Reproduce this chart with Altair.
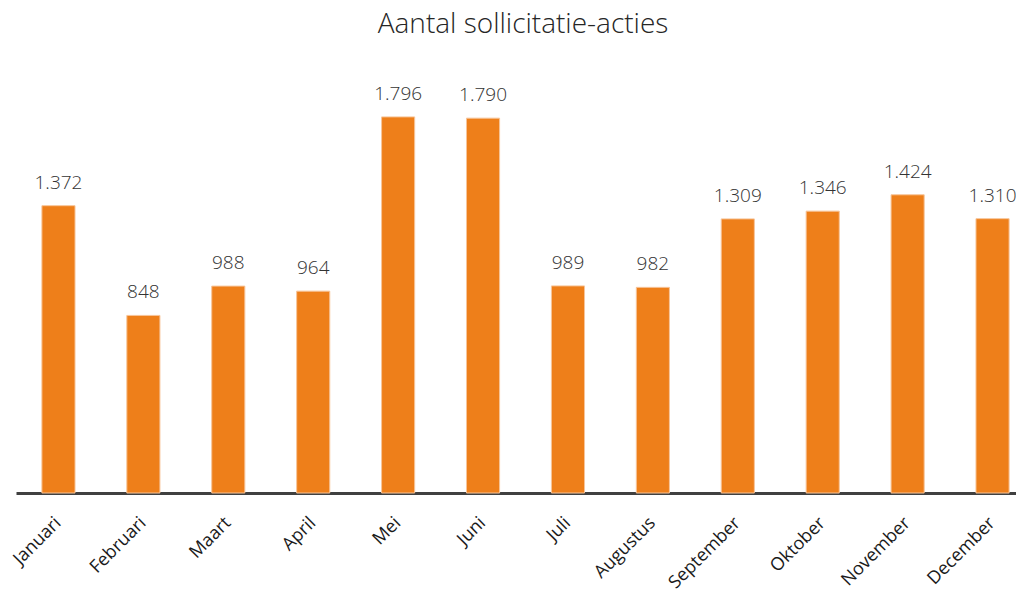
import altair as alt
import pandas as pd

months = ["Januari", "Februari", "Maart", "April", "Mei", "Juni", "Juli",
          "Augustus", "September", "Oktober", "November", "December"]
values = [1372, 848, 988, 964, 1796, 1790, 989, 982, 1309, 1346, 1424, 1310]
labels = ["1.372", "848", "988", "964", "1.796", "1.790", "989", "982",
          "1.309", "1.346", "1.424", "1.310"]
title_text = "Aantal sollicitatie-acties"

df = pd.DataFrame({"maand": months, "aantal": values, "label": labels})

FONT = "Open Sans"

x = alt.X("maand:N", sort=months, title=None,
          scale=alt.Scale(range=[0, 1019], paddingInner=0.61, paddingOuter=0.305),
          axis=alt.Axis(labelAngle=-45, labelAlign="right", labelBaseline="middle",
                        labelPadding=27, labelOffset=0, ticks=False,
                        domainColor="#404040", domainWidth=3,
                        labelFont=FONT, labelFontSize=18, labelColor="#1a1a1a",
                        labelFontWeight="normal"))
y = alt.Y("aantal:Q", title=None, scale=alt.Scale(domain=[0, 2316]), axis=None)

bars = alt.Chart(df).mark_bar(color="#EE7F1A", stroke="#F7C59A", strokeWidth=1).encode(x=x, y=y)
text = alt.Chart(df).mark_text(baseline="alphabetic", dy=-17, font=FONT, fontSize=19,
                               fontWeight=300, color="#333333").encode(
    x=x, y=y, text="label:N")

title = alt.Chart(pd.DataFrame({"t": [title_text]})).mark_text(
    baseline="alphabetic", align="center", font=FONT, fontSize=28, fontWeight=300,
    color="#262626").encode(x=alt.value(507), y=alt.value(25), text="t:N")

chart = (bars + text + title).properties(
    width=1000, height=485,
    autosize=alt.AutoSizeParams(type="none"),
    padding={"left": 8, "top": 0, "right": 0, "bottom": 110},
).configure_view(stroke=None)

chart.save("out.html", embed_options={"renderer": "svg", "actions": False})
